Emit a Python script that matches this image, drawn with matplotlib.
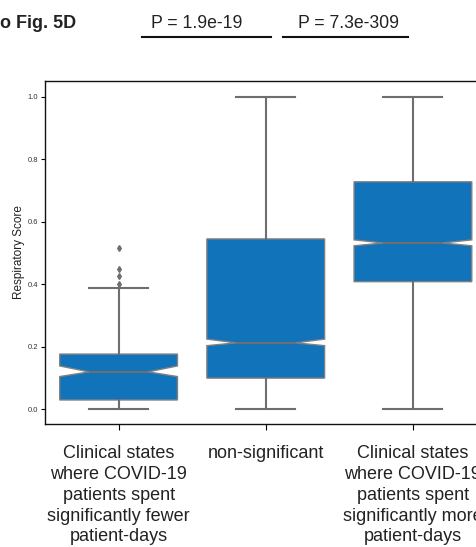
import matplotlib.pyplot as plt
import numpy as np

plt.rcParams['font.family'] = ['Liberation Sans', 'DejaVu Sans']

# box statistics
categories = ["Clinical states\nwhere COVID-19\npatients spent\nsignificantly fewer\npatient-days",
              "non-significant",
              "Clinical states\nwhere COVID-19\npatients spent\nsignificantly more\npatient-days"]
medians = [0.119, 0.212, 0.532]
q1s = [0.029, 0.099, 0.408]
q3s = [0.176, 0.545, 0.728]
whis_lo = [0.0, 0.0, 0.0]
whis_hi = [0.388, 1.0, 1.0]
ci_lo = [0.104, 0.203, 0.523]
ci_hi = [0.138, 0.224, 0.542]
fliers = [[0.402, 0.426, 0.45, 0.516], [], []]
pvals = ["P = 1.9e-19", "P = 7.3e-309"]

blue = "#1173ba"
gray = "#6e6e70"

stats = []
for i in range(len(categories)):
    stats.append(dict(med=medians[i], q1=q1s[i], q3=q3s[i], whislo=whis_lo[i],
                      whishi=whis_hi[i], cilo=ci_lo[i], cihi=ci_hi[i],
                      fliers=fliers[i], label=categories[i]))

fig = plt.figure(figsize=(4.76, 5.47), dpi=100)
ax = fig.add_axes([45/476, 123/547, 441.5/476, 343/547])

ax.bxp(stats, positions=[0, 1, 2], widths=0.8, shownotches=True, patch_artist=True,
       boxprops=dict(facecolor=blue, edgecolor="#808080", linewidth=1.0),
       medianprops=dict(color=gray, linewidth=1.5),
       whiskerprops=dict(color=gray, linewidth=1.5),
       capprops=dict(color=gray, linewidth=1.5),
       flierprops=dict(marker='d', markerfacecolor=gray, markeredgecolor=gray, markersize=3))

ax.set_xlim(-0.5, 2.5)
ax.set_ylim(-0.048, 1.051)
ax.set_yticks(np.arange(0, 1.01, 0.2))
ax.set_yticklabels([f"{v:.1f}" for v in np.arange(0, 1.01, 0.2)], fontsize=5.5, color="#333333")
ax.set_xticks([0, 1, 2])
ax.set_xticklabels(categories, fontsize=13, color="#222222", va='top', linespacing=1.3)
ax.tick_params(axis='y', length=3, width=0.8, pad=2)
ax.tick_params(axis='x', length=4, width=0.8, pad=11)
ax.set_ylabel("Respiratory Score", fontsize=8.5, color="#222222", labelpad=1.5)
for s in ax.spines.values():
    s.set_linewidth(1.0)
    s.set_color("#111111")

# header texts
fig.text(76/476, 1 - 23/547, "to Fig. 5D", fontsize=13, fontweight='bold', ha='right', va='center', color="#222222")
text_x = [197, 349]
xs = [(142, 271), (283, 408)]
for tx, (x0, x1), p in zip(text_x, xs, pvals):
    fig.text(tx / 476, 1 - 23.5/547, p, fontsize=12.7, ha='center', va='center', color="#222222")
    fig.add_artist(plt.Line2D([x0/476, x1/476], [1 - 37/547, 1 - 37/547], color="#111111", linewidth=1.5))

fig.savefig("out.png", dpi=100)
